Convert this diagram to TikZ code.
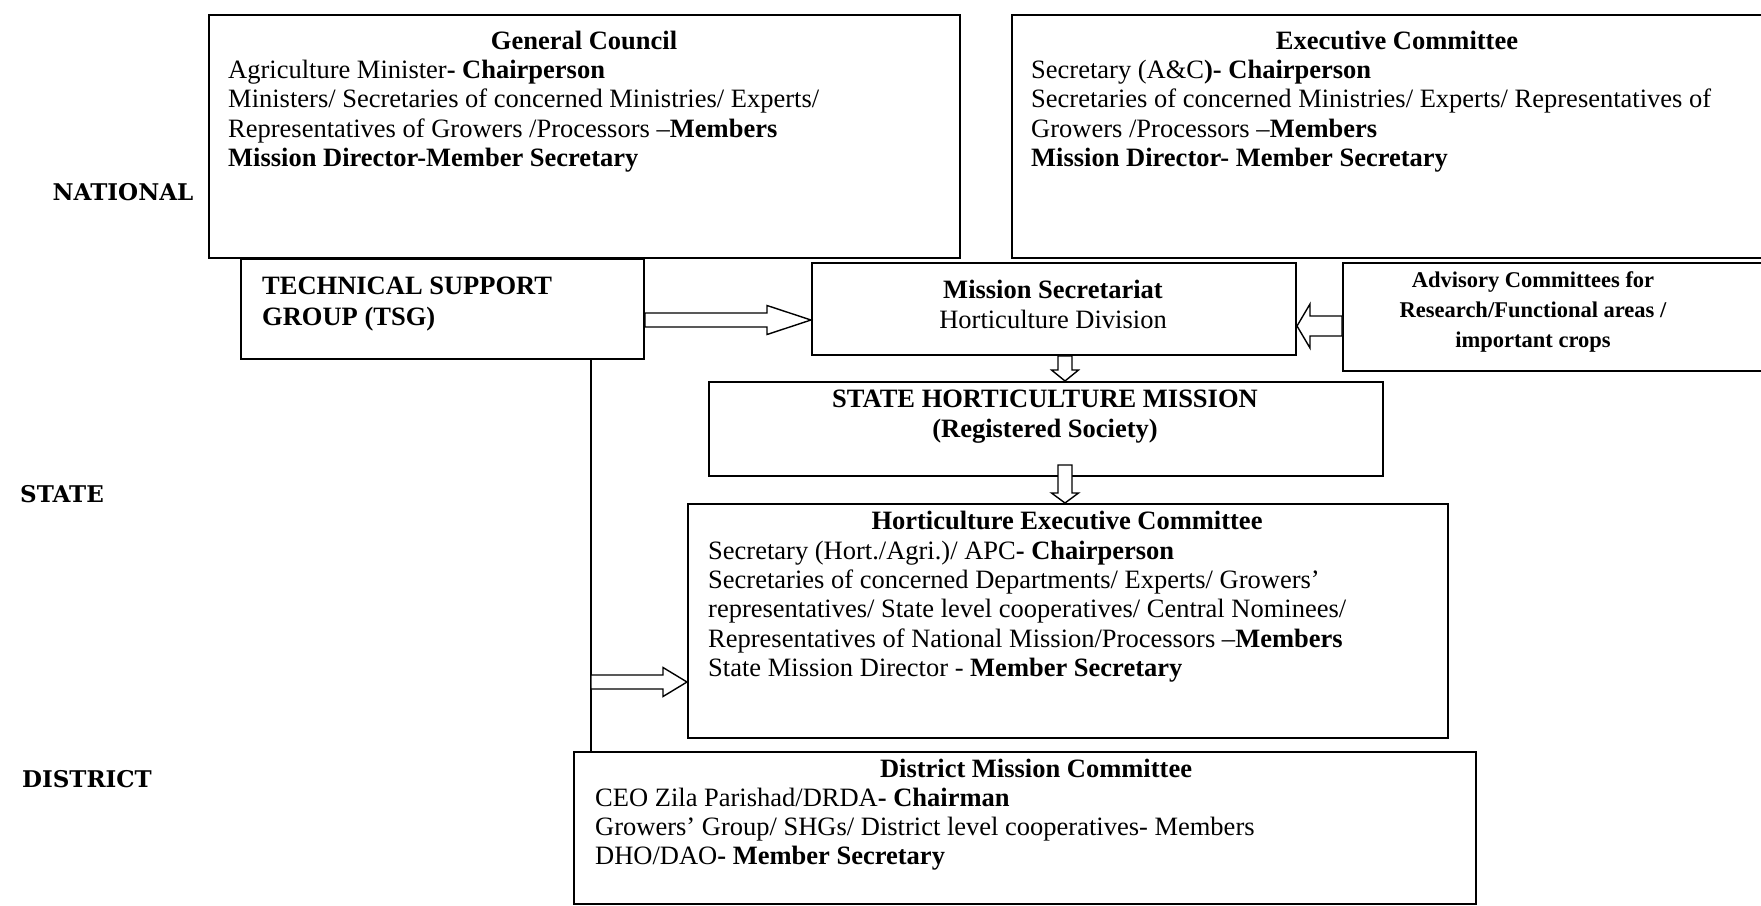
\documentclass[tikz,border=0pt]{standalone}
\usepackage{fontspec}
\setmainfont{Liberation Serif}
\newfontfamily\lvlfont{DejaVu Serif}
\usetikzlibrary{calc}
\pgfdeclarelayer{background}
\pgfsetlayers{background,main}
\newcommand{\mainsz}{\fontsize{26.5}{30}\selectfont}
\newcommand{\advsz}{\fontsize{22.5}{29}\selectfont}
\newcommand{\rightblk}[5]{%
  \draw[blk] ($(#1)+(0,-#3)$) -- ($(#2)+(-#5,-#3)$) -- ($(#2)+(-#5,-#4)$) -- (#2)
    -- ($(#2)+(-#5,#4)$) -- ($(#2)+(-#5,#3)$) -- ($(#1)+(0,#3)$) -- cycle;}
\newcommand{\leftblk}[5]{%
  \draw[blk] ($(#1)+(0,-#3)$) -- ($(#2)+(#5,-#3)$) -- ($(#2)+(#5,-#4)$) -- (#2)
    -- ($(#2)+(#5,#4)$) -- ($(#2)+(#5,#3)$) -- ($(#1)+(0,#3)$) -- cycle;}
\newcommand{\downblk}[5]{%
  \draw[blk] ($(#1)+(-#3,0)$) -- ($(#2)+(-#3,-#5)$) -- ($(#2)+(-#4,-#5)$) -- (#2)
    -- ($(#2)+(#4,-#5)$) -- ($(#2)+(#3,-#5)$) -- ($(#1)+(#3,0)$) -- cycle;}
\begin{document}
\begin{tikzpicture}[x=1pt,y=-1pt,
  box/.style={draw, line width=2pt, fill=white, inner sep=0pt, anchor=north west},
  tl/.style={inner sep=0pt, anchor=base west, font=\mainsz},
  tc/.style={inner sep=0pt, anchor=base, font=\mainsz\bfseries},
  tcr/.style={inner sep=0pt, anchor=base, font=\mainsz},
  ta/.style={inner sep=0pt, anchor=base, font=\advsz\bfseries},
  blk/.style={draw, line width=1.4pt, fill=white, line join=miter},
  vline/.style={draw, line width=1.6pt},
  lvl/.style={inner sep=0pt, anchor=center, font=\lvlfont\bfseries\fontsize{23}{26}\selectfont}]
\useasboundingbox (0,0) rectangle (1761,905);
\fill[white] (0,0) rectangle (1761,905);

% boxes
\node[box, minimum width=751pt, minimum height=243pt] (gc) at (208,14) {};
\node[box, minimum width=774pt, minimum height=243pt] (ec) at (1011,14) {};
\node[box, minimum width=403pt, minimum height=100pt] (tsg) at (240,258) {};
\node[box, minimum width=484pt, minimum height=92pt] (ms) at (811,262) {};
\node[box, minimum width=443pt, minimum height=108pt] (adv) at (1342,262) {};
\node[box, minimum width=674pt, minimum height=94pt] (shm) at (708,381) {};
\node[box, minimum width=760pt, minimum height=234pt] (hec) at (687,503) {};
\node[box, minimum width=902pt, minimum height=152pt] (dmc) at (573,751) {};

% level labels
\node[lvl] (lnat) at (123,192) {NATIONAL};
\node[lvl] (lsta) at (62,494) {STATE};
\node[lvl] (ldis) at (87,779) {DISTRICT};

% General Council
\node[tc] (gct) at (584,49) {General Council};
\node[tl] (gc1) at (228,78) {Agriculture Minister\textbf{- Chairperson}};
\node[tl] (gc2) at (228,107) {Ministers/ Secretaries of concerned Ministries/ Experts/};
\node[tl] (gc3) at (228,137) {Representatives of Growers /Processors –\textbf{Members}};
\node[tl] (gc4) at (228,166) {\textbf{Mission Director-Member Secretary}};

% Executive Committee
\node[tc] (ect) at (1397,49) {Executive Committee};
\node[tl] (ec1) at (1031,78) {Secretary (A\&C\textbf{)- Chairperson}};
\node[tl] (ec2) at (1031,107) {Secretaries of concerned Ministries/ Experts/ Representatives of};
\node[tl] (ec3) at (1031,137) {Growers /Processors –\textbf{Members}};
\node[tl] (ec4) at (1031,166) {\textbf{Mission Director- Member Secretary}};

% TSG
\node[tl, font=\mainsz\bfseries] (tsg1) at (262,294) {TECHNICAL SUPPORT};
\node[tl, font=\mainsz\bfseries] (tsg2) at (262,325) {GROUP (TSG)};

% Mission Secretariat
\node[tc] (mst) at (1053,298) {Mission Secretariat};
\node[tcr] (ms1) at (1053,328) {Horticulture Division};

% Advisory
\node[ta] (adv1) at (1533,287) {Advisory Committees for};
\node[ta] (adv2) at (1533,317) {Research/Functional areas /};
\node[ta] (adv3) at (1533,347) {important crops};

% State Horticulture Mission
\node[tc] (shm1) at (1045,407) {STATE HORTICULTURE MISSION};
\node[tc] (shm2) at (1045,437) {(Registered Society)};

% Horticulture Executive Committee
\node[tc] (hect) at (1067,529) {Horticulture Executive Committee};
\node[tl] (hec1) at (708,559) {Secretary (Hort./Agri.)/ APC\textbf{- Chairperson}};
\node[tl] (hec2) at (708,588) {Secretaries of concerned Departments/ Experts/ Growers’};
\node[tl] (hec3) at (708,617) {representatives/ State level cooperatives/ Central Nominees/};
\node[tl] (hec4) at (708,647) {Representatives of National Mission/Processors –\textbf{Members}};
\node[tl] (hec5) at (708,676) {State Mission Director - \textbf{Member Secretary}};

% District Mission Committee
\node[tc] (dmct) at (1036,777) {District Mission Committee};
\node[tl] (dmc1) at (595,806) {CEO Zila Parishad/DRDA\textbf{- Chairman}};
\node[tl] (dmc2) at (595,835) {Growers’ Group/ SHGs/ District level cooperatives- Members};
\node[tl] (dmc3) at (595,864) {DHO/DAO\textbf{- Member Secretary}};

% connector coordinates
\coordinate (a1s) at (tsg.east |- 0,320);
\coordinate (a1e) at (ms.west |- 0,320);
\coordinate (a2s) at (adv.west |- 0,326);
\coordinate (a2e) at (ms.east |- 0,326);
\coordinate (a3s) at (1065,0 |- ms.south);
\coordinate (a3e) at (1065,0 |- shm.north);
\coordinate (a4s) at ($(1065,0 |- shm.south)+(0,-12)$);
\coordinate (a4e) at (1065,0 |- hec.north);
\coordinate (v1) at (591,0 |- tsg.south);
\coordinate (v2) at (591,0 |- dmc.north);
\coordinate (a5s) at (v1 |- 0,682);
\coordinate (a5e) at (hec.west |- 0,682);
\coordinate (h1s) at (946,0 |- gc.south);
\coordinate (h1e) at ($(946,0 |- ms.north)+(0,12)$);
\coordinate (h2s) at (1186,0 |- ec.south);
\coordinate (h2e) at ($(1186,0 |- ms.north)+(0,12)$);
\coordinate (h3s) at (850,0 |- hec.south);
\coordinate (h3e) at ($(850,0 |- dmc.north)+(0,12)$);
\coordinate (h4s) at (1177,0 |- hec.south);
\coordinate (h4e) at ($(1177,0 |- dmc.north)+(0,12)$);

% hidden-head arrows (behind the boxes)
\begin{pgfonlayer}{background}
\fill[white] (0,0) rectangle (1761,905);
\downblk{h1s}{h1e}{7}{13}{10}
\downblk{h2s}{h2e}{7}{13}{10}
\downblk{h3s}{h3e}{5}{11}{10}
\downblk{h4s}{h4e}{5}{11}{10}
\end{pgfonlayer}

% vertical line from TSG
\draw[vline] (v1) -- (v2);

% visible block arrows
\rightblk{a1s}{a1e}{7}{14.5}{44}
\leftblk{a2s}{a2e}{10}{22}{13}
\downblk{a3s}{a3e}{7}{13.5}{11}
\downblk{a4s}{a4e}{7}{13.5}{10}
\rightblk{a5s}{a5e}{7}{14.5}{24}
\end{tikzpicture}
\end{document}
